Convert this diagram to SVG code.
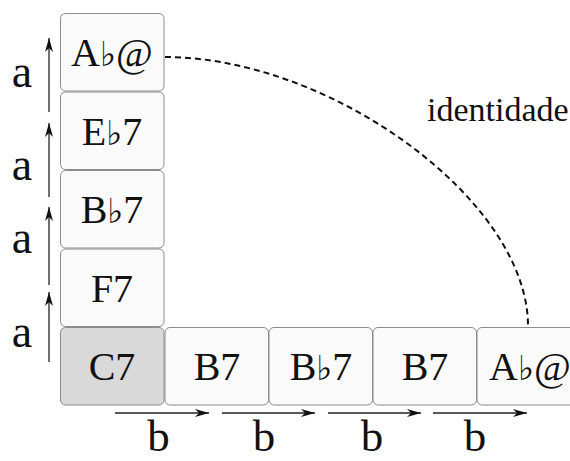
<svg xmlns="http://www.w3.org/2000/svg" width="570" height="461" viewBox="0 0 570 461">
<style>
.box{fill:#fafafa;stroke:#8c8c8c;stroke-width:1}
.start{fill:#d9d9d9}
.lbl{font-family:"Liberation Serif","Times New Roman",serif;font-size:40px;fill:#111;text-anchor:middle}
.fl{font-family:"DejaVu Serif","Liberation Serif",serif;font-size:34px}
.big{font-family:"Liberation Serif","Times New Roman",serif;font-size:46px;fill:#111;text-anchor:middle}
.bb{font-size:45px}
.note{font-family:"Liberation Serif","Times New Roman",serif;font-size:34px;fill:#111}
.arr{stroke:#222;stroke-width:1.3;fill:none;marker-end:url(#ah)}
.dash{stroke:#111;stroke-width:2;fill:none;stroke-dasharray:6 4}
</style>
<defs>
<marker id="ah" markerUnits="userSpaceOnUse" markerWidth="14" markerHeight="10" viewBox="0 0 14 10" refX="14" refY="5" orient="auto">
<path d="M0,1 L14,5 L0,9 L4,5 z" fill="#111"/>
</marker>
</defs>
<g id="connectors">
<path class="dash" d="M165,57 C330,57 528,200 528,326"/>
<line class="arr" x1="49" y1="112" x2="49" y2="38"/>
<line class="arr" x1="49" y1="197" x2="49" y2="123"/>
<line class="arr" x1="49" y1="285" x2="49" y2="207"/>
<line class="arr" x1="49" y1="362" x2="49" y2="292"/>
<line class="arr" x1="115" y1="413" x2="209" y2="413"/>
<line class="arr" x1="222" y1="413" x2="315" y2="413"/>
<line class="arr" x1="328" y1="413" x2="421" y2="413"/>
<line class="arr" x1="433" y1="413" x2="527" y2="413"/>
</g>
<g id="n-ab-top"><rect class="box" x="60.5" y="13.5" width="103.5" height="77.5" rx="5"/><text class="lbl" x="112" y="66">A<tspan class="fl">♭</tspan>@</text></g>
<g id="n-eb7"><rect class="box" x="60.5" y="92" width="103.5" height="77.5" rx="5"/><text class="lbl" x="112" y="145">E<tspan class="fl">♭</tspan>7</text></g>
<g id="n-bb7-col"><rect class="box" x="60.5" y="170.5" width="103.5" height="77.5" rx="5"/><text class="lbl" x="112" y="223">B<tspan class="fl">♭</tspan>7</text></g>
<g id="n-f7"><rect class="box" x="60.5" y="249" width="103.5" height="77.5" rx="5"/><text class="lbl" x="112" y="301.5">F7</text></g>
<g id="n-c7"><rect class="box start" x="60.5" y="327.5" width="103.5" height="77.5" rx="5"/><text class="lbl" x="112" y="380">C7</text></g>
<g id="n-b7-1"><rect class="box" x="165" y="327.5" width="103.5" height="77.5" rx="5"/><text class="lbl" x="217" y="380">B7</text></g>
<g id="n-bb7-row"><rect class="box" x="269" y="327.5" width="103.5" height="77.5" rx="5"/><text class="lbl" x="321" y="380">B<tspan class="fl">♭</tspan>7</text></g>
<g id="n-b7-2"><rect class="box" x="373" y="327.5" width="103.5" height="77.5" rx="5"/><text class="lbl" x="425" y="380">B7</text></g>
<g id="n-ab-row"><rect class="box" x="477" y="327.5" width="103.5" height="77.5" rx="5"/><text class="lbl" x="530" y="380">A<tspan class="fl">♭</tspan>@</text></g>
<g id="labels">
<text class="big" x="22" y="87">a</text>
<text class="big" x="22" y="180">a</text>
<text class="big" x="22" y="253">a</text>
<text class="big" x="22" y="347">a</text>
<text class="big bb" x="158.5" y="451">b</text>
<text class="big bb" x="264" y="451">b</text>
<text class="big bb" x="372" y="451">b</text>
<text class="big bb" x="475" y="451">b</text>
<text class="note" x="427" y="121">identidade</text>
</g>
</svg>
